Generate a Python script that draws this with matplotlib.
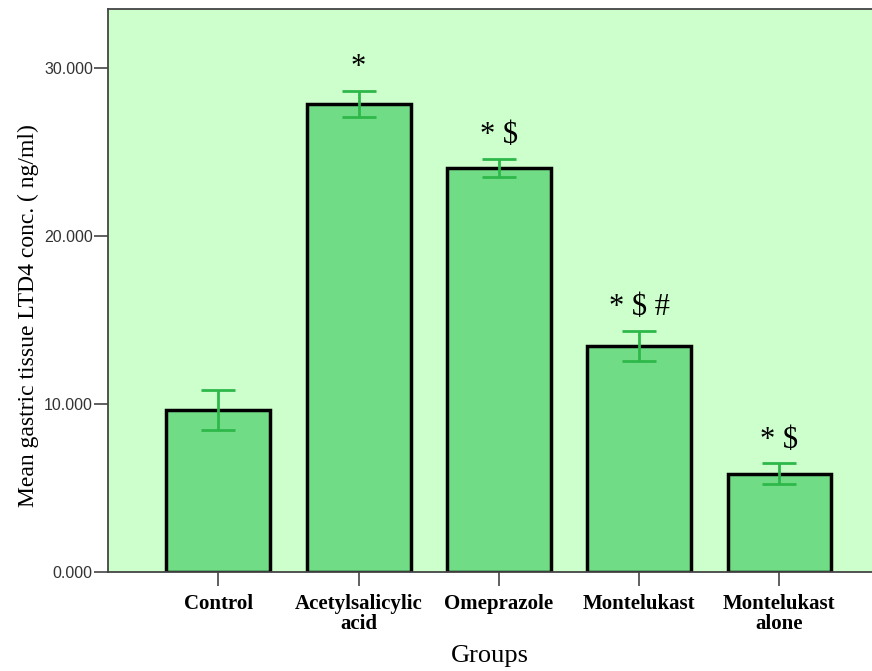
import matplotlib.pyplot as plt
from matplotlib.ticker import FormatStrFormatter

groups = ['Control', 'Acetylsalicylic\nacid', 'Omeprazole', 'Montelukast', 'Montelukast\nalone']
means = [9.65, 27.85, 24.05, 13.45, 5.85]
errors = [1.2, 0.8, 0.55, 0.9, 0.62]
marks = ['', '*', '* $', '* $ #', '* $']

fig = plt.figure(figsize=(8.72, 6.71), dpi=100)
ax = fig.add_axes([0.124, 0.1475, 0.876, 0.839])
ax.set_facecolor('#ccffcc')

x = list(range(len(groups)))
ax.bar(x, means, width=0.74, color='#70dc85', edgecolor='black', linewidth=2.5, zorder=2)
ax.errorbar(x, means, yerr=errors, fmt='none', ecolor='#2eb84a', elinewidth=2,
            capsize=12, capthick=2, zorder=3)

for xi, m, e, s in zip(x, means, errors, marks):
    if s:
        ax.text(xi, m + e + 0.5, s, ha='center', va='bottom', fontsize=22,
                family='Liberation Serif', parse_math=False, zorder=4)

ax.set_xlim(-0.786, 4.66)
ax.set_ylim(0, 33.5)
ax.set_yticks([0, 10, 20, 30])
ax.yaxis.set_major_formatter(FormatStrFormatter('%.3f'))
ax.set_xticks(x)
ax.set_xticklabels(groups, family='Liberation Serif', fontweight='bold', fontsize=15,
                   linespacing=1.0)
for lab in ax.get_yticklabels():
    lab.set_family('Liberation Sans')
    lab.set_fontsize(11.5)
    lab.set_color('#333333')
ax.tick_params(axis='both', direction='out', length=10, width=1.2, color='#444444')
ax.tick_params(axis='y', pad=1)
ax.tick_params(axis='x', pad=6)

for side in ['left', 'bottom', 'top']:
    ax.spines[side].set_color('#444444')
    ax.spines[side].set_linewidth(1.3)
ax.spines['right'].set_visible(False)

ax.set_xlabel('Groups', family='Liberation Serif', fontsize=19)
ax.xaxis.set_label_coords(0.5, -0.13)
ax.set_ylabel('Mean gastric tissue LTD4 conc. ( ng/ml)', family='Liberation Serif',
              fontsize=17)
ax.yaxis.set_label_coords(-0.09, 0.455)

plt.savefig('out.png', dpi=100)
